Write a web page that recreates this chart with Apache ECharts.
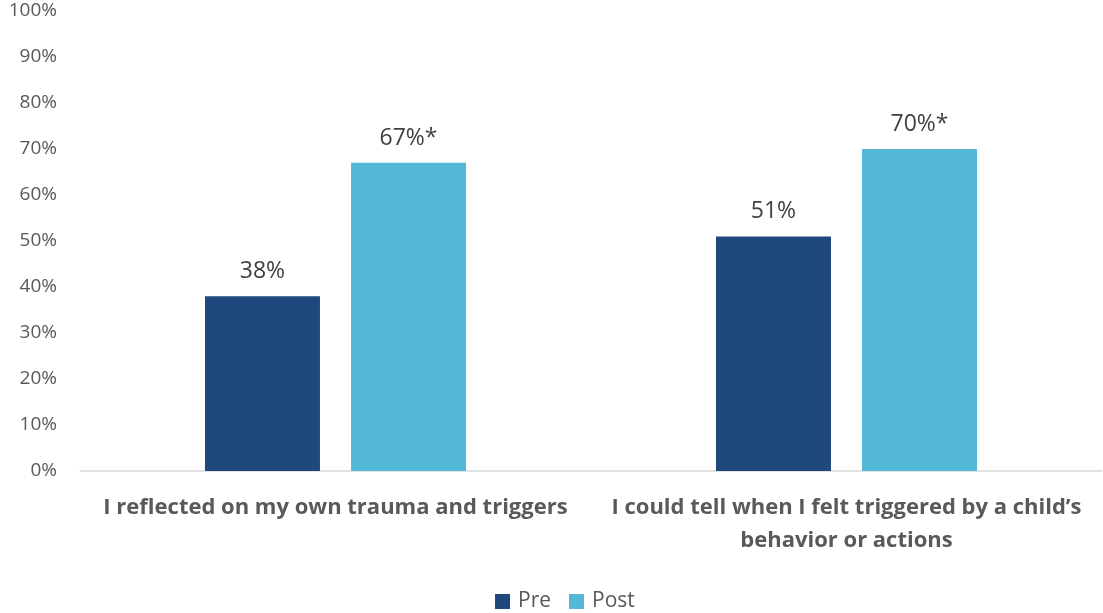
<!DOCTYPE html>
<html><head><meta charset="utf-8">
<script src="https://cdn.jsdelivr.net/npm/echarts@6/dist/echarts.min.js"></script>
<style>html,body{margin:0;padding:0;background:#fff}#c{width:1103px;height:613px}</style>
</head><body><div id="c"></div>
<script>
const categories = ["I reflected on my own trauma and triggers", "I could tell when I felt triggered by a child\u2019s\nbehavior or actions"];
const preValues = [38, 51];
const postValues = [67, 70];
const postLabels = ["67%*", "70%*"];
const preLabels = ["38%", "51%"];
const seriesNames = ["Pre", "Post"];

const chart = echarts.init(document.getElementById('c'));
const font = '"Open Sans", sans-serif';
chart.setOption({
  animation: false,
  grid: {left: 80, right: 1, top: 11, bottom: 142, containLabel: false},
  legend: {
    data: seriesNames, top: 586, left: 490, itemWidth: 15, itemHeight: 15, itemGap: 18,
    icon: 'rect',
    textStyle: {fontFamily: font, fontSize: 21, color: '#595959', padding: [0, 0, 0, 3]}
  },
  xAxis: {
    type: 'category', data: categories,
    axisLine: {lineStyle: {color: '#d9d9d9', width: 1.5}},
    axisTick: {show: false},
    axisLabel: {fontFamily: font, fontWeight: 'bold', fontSize: 22, color: '#595959', margin: 20, lineHeight: 33, interval: 0}
  },
  yAxis: {
    type: 'value', min: 0, max: 100, interval: 10,
    splitLine: {show: false},
    axisLine: {show: false}, axisTick: {show: false},
    axisLabel: {formatter: '{value}%', fontFamily: font, fontSize: 19, color: '#595959', margin: 23}
  },
  series: [
    {name: 'Pre', type: 'bar', data: preValues, barWidth: 115, barGap: '27%',
     itemStyle: {color: '#1F487C'},
     label: {show: true, position: 'top', distance: 13, fontFamily: font, fontSize: 23, color: '#404040',
       formatter: p => preLabels[p.dataIndex]}},
    {name: 'Post', type: 'bar', data: postValues, barWidth: 115,
     itemStyle: {color: '#53B9D6'},
     label: {show: true, position: 'top', distance: 13, fontFamily: font, fontSize: 23, color: '#404040',
       formatter: p => postLabels[p.dataIndex]}}
  ]
});
</script></body></html>
